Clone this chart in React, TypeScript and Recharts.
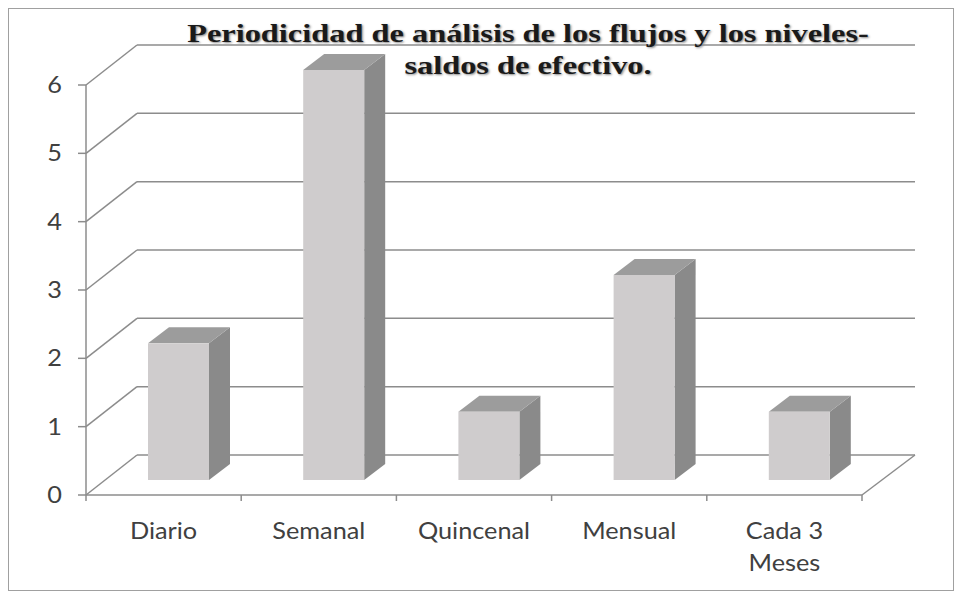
import React from "react";
import { BarChart, Bar, XAxis, YAxis, CartesianGrid } from "recharts";

const categories = ["Diario", "Semanal", "Quincenal", "Mensual", "Cada 3 Meses"];
const values = [2, 6, 1, 3, 1];
const yTicks = [0, 1, 2, 3, 4, 5, 6];
const titleLines = [
  "Periodicidad de análisis de los flujos y los niveles-",
  "saldos de efectivo.",
];

const data = categories.map((c, i) => ({ name: c, value: values[i] }));

// 3D layout constants
const WALL_DX = 51;
const WALL_DY = -40;
const FLOOR_RIGHT_DX = 53;
const BAR_SHIFT_X = 15;
const BAR_SHIFT_Y = -15;
const DEPTH_X = 21;
const DEPTH_Y = -16;
const GRID_COLOR = "#8c8c8c";
const LABEL_COLOR = "#404040";
const FONT = "Lato, 'Open Sans', sans-serif";
const TEXT_STRETCH = 1.1;

const Bar3D = (props: any) => {
  const { x, y, width, height } = props;
  if (height == null || width == null) return null;
  const fx = x + BAR_SHIFT_X;
  const fy = y + BAR_SHIFT_Y;
  const side = `${fx + width},${fy} ${fx + width + DEPTH_X},${fy + DEPTH_Y} ${fx + width + DEPTH_X},${fy + height + DEPTH_Y} ${fx + width},${fy + height}`;
  const top = `${fx},${fy} ${fx + DEPTH_X},${fy + DEPTH_Y} ${fx + width + DEPTH_X},${fy + DEPTH_Y} ${fx + width},${fy}`;
  return (
    <g>
      <polygon points={side} fill="#8a8a8a" />
      <polygon points={top} fill="#9c9c9c" />
      <rect x={fx} y={fy} width={width} height={height} fill="#cfcccd" />
    </g>
  );
};

const GridLine = (props: any) => {
  const { x1, x2, y1, index } = props;
  const bottom =
    props.y != null && props.height != null
      ? Math.abs(y1 - (props.y + props.height)) < 1
      : index === 0;
  return (
    <g key={props.key ?? `g-${index}`}>
      <line
        x1={x1}
        y1={y1}
        x2={x1 + WALL_DX}
        y2={y1 + WALL_DY}
        stroke={GRID_COLOR}
        strokeWidth={1.5}
      />
      <line
        x1={x1 + WALL_DX}
        y1={y1 + WALL_DY}
        x2={x2 + FLOOR_RIGHT_DX}
        y2={y1 + WALL_DY}
        stroke={GRID_COLOR}
        strokeWidth={1.5}
      />
      {bottom && (
        <line
          x1={x2}
          y1={y1}
          x2={x2 + FLOOR_RIGHT_DX}
          y2={y1 + WALL_DY}
          stroke={GRID_COLOR}
          strokeWidth={1.5}
        />
      )}
    </g>
  );
};

const wrapLabel = (s: string, max: number) => {
  const words = s.split(" ");
  const lines: string[] = [];
  let cur = "";
  for (const w of words) {
    const t = cur ? cur + " " + w : w;
    if (t.length > max && cur) {
      lines.push(cur);
      cur = w;
    } else cur = t;
  }
  if (cur) lines.push(cur);
  return lines;
};

const XTick = (props: any) => {
  const { x, y, payload, index } = props;
  const half = (862 - 86) / categories.length / 2;
  const lines = wrapLabel(String(payload.value), 8);
  return (
    <g>
      <line x1={x - half} y1={y - 8} x2={x - half} y2={y - 2} stroke={GRID_COLOR} strokeWidth={1.5} />
      {index === categories.length - 1 && (
        <line x1={x + half} y1={y - 8} x2={x + half} y2={y - 2} stroke={GRID_COLOR} strokeWidth={1.5} />
      )}
      <g transform={`translate(${x},${y}) scale(${TEXT_STRETCH},1)`}>
        {lines.map((l, i) => (
          <text
            key={i}
            x={0}
            y={36 + i * 32}
            textAnchor="middle"
            fontFamily={FONT}
            fontSize={23}
            fill={LABEL_COLOR}
          >
            {l}
          </text>
        ))}
      </g>
    </g>
  );
};

const YTick = (props: any) => {
  const { x, y, payload } = props;
  return (
    <g transform={`translate(${x - 14},${y + 8}) scale(${TEXT_STRETCH},1)`}>
      <text
        x={0}
        y={0}
        textAnchor="end"
        fontFamily={FONT}
        fontSize={23}
        fill={LABEL_COLOR}
      >
        {payload.value}
      </text>
    </g>
  );
};

export default function App() {
  return (
    <div style={{ position: "absolute", left: 0, top: 0, width: 960, height: 594, background: "#fff" }}>
      <div
        style={{
          position: "absolute",
          left: 8,
          top: 8,
          width: 946,
          height: 583,
          border: "1.5px solid #a0a0a0",
          boxSizing: "border-box",
        }}
      />
      <div style={{ position: "absolute", left: 0, top: 0 }}>
        <BarChart
          width={960}
          height={594}
          data={data}
          margin={{ top: 85, right: 98, bottom: 0, left: 36 }}
          barSize={61}
        >
          <CartesianGrid vertical={false} horizontal={GridLine as any} />
          <YAxis
            domain={[0, 6]}
            ticks={yTicks}
            interval={0}
            width={50}
            axisLine={{ stroke: GRID_COLOR, strokeWidth: 1.5 }}
            tickLine={{ stroke: GRID_COLOR, strokeWidth: 1.5 }}
            tickSize={8}
            tick={<YTick />}
          />
          <XAxis
            dataKey="name"
            height={99}
            interval={0}
            axisLine={{ stroke: GRID_COLOR, strokeWidth: 1.5 }}
            tickLine={false}
            tick={<XTick />}
          />
          <Bar dataKey="value" isAnimationActive={false} shape={<Bar3D />} />
        </BarChart>
      </div>
      <div
        style={{
          position: "absolute",
          left: 128,
          top: 18,
          width: 800,
          textAlign: "center",
          fontFamily: "'Liberation Serif', 'Times New Roman', serif",
          fontWeight: "bold",
          fontSize: 26,
          lineHeight: "32px",
          color: "#1a1a1a",
          textShadow: "1px 1px 2px #888",
          transform: "scaleX(1.245)",
          transformOrigin: "center",
          whiteSpace: "nowrap",
        }}
      >
        {titleLines.map((l, i) => (
          <div key={i}>{l}</div>
        ))}
      </div>
    </div>
  );
}
